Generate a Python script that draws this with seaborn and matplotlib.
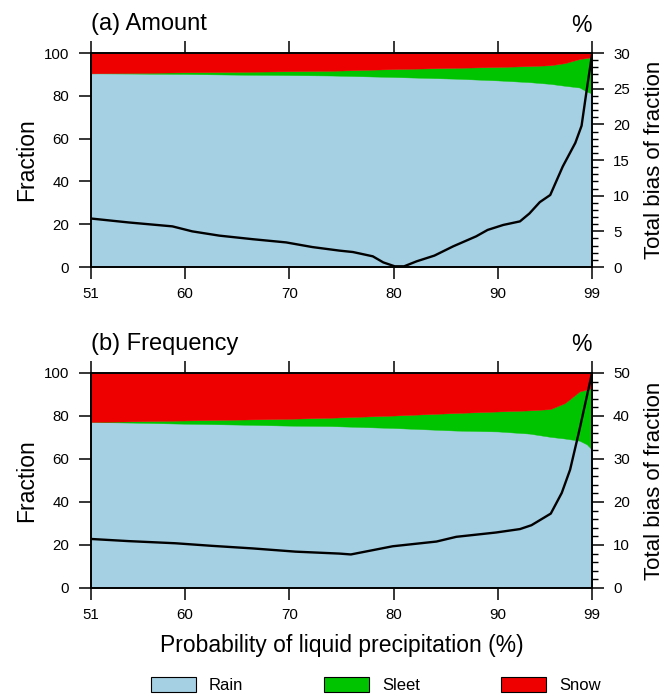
import matplotlib
matplotlib.use("Agg")
import matplotlib.pyplot as plt
from matplotlib.patches import Patch
from matplotlib.ticker import MultipleLocator
import pandas as pd
import seaborn as sns

sns.set_style("ticks")
plt.rcParams["font.family"] = ["Liberation Sans", "DejaVu Sans"]
plt.rcParams.update({"text.color": "black", "axes.labelcolor": "black",
                     "xtick.color": "black", "ytick.color": "black"})

# Probability of liquid precipitation (%) at which the phase fractions are given
prob = [51, 55, 60, 65, 70, 74, 80, 86, 90, 93, 95, 96.4, 97.8, 98.5, 99]

# (a) Amount: fraction (%) of each precipitation phase
amount_rain = [90.5, 90.4, 90.2, 89.9, 89.7, 89.5, 88.8, 88.0, 87.2, 86.4, 85.6, 84.7, 83.9, 82.0, 81.0]
amount_sleet = [0.0, 0.3, 0.8, 1.3, 1.8, 2.2, 3.7, 5.1, 6.3, 7.5, 8.7, 10.6, 13.3, 15.7, 17.1]
amount_snow = [9.5, 9.3, 9.0, 8.8, 8.5, 8.3, 7.5, 6.9, 6.5, 6.1, 5.7, 4.7, 2.8, 2.3, 1.9]

# (b) Frequency: fraction (%) of each precipitation phase
freq_rain = [77.2, 76.9, 76.4, 76.0, 75.5, 75.3, 74.4, 73.2, 72.8, 71.8, 70.3, 69.5, 68.5, 66.8, 64.3]
freq_sleet = [0.0, 0.6, 1.5, 2.3, 3.2, 3.9, 5.8, 8.2, 9.3, 10.8, 12.9, 16.5, 22.9, 25.5, 28.7]
freq_snow = [22.8, 22.5, 22.1, 21.7, 21.3, 20.8, 19.8, 18.6, 17.9, 17.4, 16.8, 14.0, 8.6, 7.7, 7.0]

# Total bias of fraction (%), right axis
amount_bias_prob = [51, 54.6, 58.8, 60.7, 63.3, 66.5, 69.7, 72.2, 74.8, 76.1, 78.0, 79.0, 80.1,
                    81.0, 82.2, 83.9, 85.7, 87.9, 89.0, 90.5, 92.1, 93.0, 94.0, 95.0, 96.2,
                    97.4, 98.0, 98.5, 99]
amount_bias = [6.8, 6.25, 5.7, 5.0, 4.4, 3.9, 3.45, 2.8, 2.3, 2.1, 1.5, 0.65, 0.1,
               0.1, 0.8, 1.6, 2.9, 4.3, 5.2, 5.9, 6.4, 7.5, 9.1, 10.1, 14.1,
               17.4, 19.8, 24.9, 29.8]

freq_bias_prob = [51, 54.6, 59.1, 62.6, 66.5, 70.6, 74.8, 75.9, 79.9, 84.1, 86.0, 89.8,
                  92.1, 93.2, 95.05, 96.1, 96.9, 97.8, 99]
freq_bias = [11.4, 10.9, 10.4, 9.8, 9.2, 8.45, 8.0, 7.8, 9.7, 10.8, 11.9, 12.9,
             13.7, 14.6, 17.3, 22.1, 27.5, 36.8, 50.0]

x_ticks = [51, 60, 70, 80, 90, 99]
phase_names = ["Rain", "Sleet", "Snow"]
phase_colors = ["#a5cfe3", "#00c400", "#ee0000"]

panels = [
    dict(title="(a) Amount", rain=amount_rain, sleet=amount_sleet, snow=amount_snow,
         bias_x=amount_bias_prob, bias=amount_bias, bias_max=30, bias_major=5, bias_minor=1,
         rect=[0.1366, 0.6169, 0.7523, 0.3070]),
    dict(title="(b) Frequency", rain=freq_rain, sleet=freq_sleet, snow=freq_snow,
         bias_x=freq_bias_prob, bias=freq_bias, bias_max=50, bias_major=10, bias_minor=2,
         rect=[0.1366, 0.1564, 0.7523, 0.3085]),
]

fig = plt.figure(figsize=(6.66, 6.97), dpi=100)

label_size = 16.5
tick_size = 10.8
spine_w = 1.2

for p in panels:
    ax = fig.add_axes(p["rect"])
    ax.stackplot(prob, p["rain"], p["sleet"], p["snow"], colors=phase_colors,
                 linewidth=0.3, edgecolor="face")
    ax.set_xlim(51, 99)
    ax.set_ylim(0, 100)
    ax.set_xticks(x_ticks)
    ax.set_yticks(range(0, 101, 20))
    ax.tick_params(axis="both", direction="out", length=8.6, width=1.1,
                   labelsize=tick_size, color="black")
    ax.tick_params(axis="x", top=True, labeltop=False, pad=6)
    ax.tick_params(axis="y", pad=7)
    ax.set_ylabel("Fraction", fontsize=label_size)
    ax.yaxis.set_label_coords(-0.106, 0.5)
    for s in ax.spines.values():
        s.set_visible(True)
        s.set_linewidth(spine_w)
        s.set_color("black")

    ax2 = ax.twinx()
    bias_df = pd.DataFrame({"prob": p["bias_x"], "bias": p["bias"]})
    sns.lineplot(data=bias_df, x="prob", y="bias", ax=ax2, color="black",
                 linewidth=1.7, sort=True)
    ax2.set_xlim(51, 99)
    ax2.set_ylim(0, p["bias_max"])
    ax2.yaxis.set_major_locator(MultipleLocator(p["bias_major"]))
    ax2.yaxis.set_minor_locator(MultipleLocator(p["bias_minor"]))
    ax2.tick_params(axis="y", which="major", direction="out", length=8.6, width=1.1,
                    labelsize=tick_size, pad=6.5, right=True, left=False)
    ax2.tick_params(axis="y", which="minor", direction="out", length=4.3, width=1.0,
                    right=True, left=False)
    ax2.set_xlabel("")
    ax2.set_ylabel("Total bias of fraction", fontsize=16)
    ax2.yaxis.set_label_coords(1.103, 0.5)
    for s in ax2.spines.values():
        s.set_visible(True)
        s.set_linewidth(spine_w)
        s.set_color("black")

    ax.annotate(p["title"], xy=(0, 1), xycoords="axes fraction", xytext=(0, 16.6),
                textcoords="offset points", ha="left", va="baseline", fontsize=17)
    ax.annotate("%", xy=(1, 1), xycoords="axes fraction", xytext=(0, 15.5),
                textcoords="offset points", ha="right", va="baseline", fontsize=label_size)

fig.text(0.513, 0.065, "Probability of liquid precipitation (%)", ha="center",
         va="baseline", fontsize=label_size)

handles = [Patch(facecolor=c, edgecolor="black", linewidth=0.8) for c in phase_colors]
fig.legend(handles, phase_names, loc="center", bbox_to_anchor=(0.5644, 0.0172),
           ncol=3, frameon=False, fontsize=12, handlelength=2.7, handleheight=0.96,
           handletextpad=0.78, columnspacing=4.85, borderaxespad=0, borderpad=0)

fig.savefig("out.png", dpi=100)
